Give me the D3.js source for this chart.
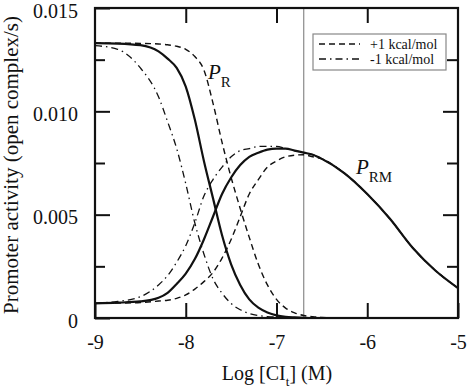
<!DOCTYPE html>
<html><head><meta charset="utf-8">
<script src="https://cdn.jsdelivr.net/npm/d3@7"></script>
<style>
html,body{margin:0;padding:0;background:#fff;}
svg{display:block;}
text{font-family:"Liberation Serif","Times New Roman",serif;fill:#111;}
</style></head>
<body>
<svg id="chart" width="469" height="391"></svg>
<script>
// log [CI_t] grid (M)
const logC = [-9, -8.75, -8.5, -8.3, -8.2, -8.1, -8.0, -7.9, -7.8, -7.7, -7.6, -7.5, -7.4, -7.3, -7.2, -7.1, -7.0, -6.9, -6.8, -6.7, -6.6, -6.5, -6.25, -6.0, -5.75, -5.5, -5.25, -5.0];

// P_R activity
const prSolid   = [0.0133, 0.01328, 0.0132, 0.0129, 0.01255, 0.0121, 0.0112, 0.0096, 0.0076, 0.0058, 0.0040, 0.0026, 0.0016, 0.0009, 0.0005, 0.00027, 0.00013, 0.00006, 0.00003, 0.00001, 0, 0, 0, 0, 0, 0, 0, 0];
const prPlus1   = [0.0133, 0.0133, 0.01329, 0.01326, 0.01322, 0.01315, 0.0130, 0.01265, 0.0120, 0.0104, 0.0085, 0.0068, 0.0053, 0.0039, 0.0026, 0.0016, 0.0009, 0.00048, 0.00025, 0.00012, 0.00006, 0.00003, 0, 0, 0, 0, 0, 0];
const prMinus1  = [0.01318, 0.0130, 0.0121, 0.0107, 0.0095, 0.0082, 0.0065, 0.0046, 0.0031, 0.0019, 0.0012, 0.0007, 0.0004, 0.00022, 0.00012, 0.00007, 0.00004, 0.00002, 0.00001, 0, 0, 0, 0, 0, 0, 0, 0, 0];

// P_RM activity
const prmSolid  = [0.00071, 0.00074, 0.0008, 0.00098, 0.00122, 0.00165, 0.00215, 0.00285, 0.0038, 0.0049, 0.0060, 0.0068, 0.0074, 0.0078, 0.0080, 0.00815, 0.0082, 0.0082, 0.0081, 0.0080, 0.0079, 0.0077, 0.0070, 0.0060, 0.0048, 0.0034, 0.0023, 0.00145];
const prmPlus1  = [0.00071, 0.00072, 0.00075, 0.00082, 0.00086, 0.00095, 0.00112, 0.0014, 0.00176, 0.0022, 0.0029, 0.0038, 0.0049, 0.0060, 0.0067, 0.0073, 0.0076, 0.0078, 0.00788, 0.0079, 0.0078, 0.0077, 0.0070, 0.0060, 0.0048, 0.0034, 0.0023, 0.00145];
const prmMinus1 = [0.00072, 0.0008, 0.00103, 0.0016, 0.00205, 0.0027, 0.0035, 0.0046, 0.0059, 0.0067, 0.0073, 0.0078, 0.0081, 0.0082, 0.0083, 0.0083, 0.0083, 0.0082, 0.0081, 0.0080, 0.0079, 0.0077, 0.0070, 0.0060, 0.0048, 0.0034, 0.0023, 0.00145];

const xTicks = [-9, -8, -7, -6, -5];
const yTicks = [0, 0.005, 0.010, 0.015];
const yMinorTicks = [0.0025, 0.0075, 0.0125];
const refLine = -6.7;
const legendLabels = ["+1 kcal/mol", "-1 kcal/mol"];

const svg = d3.select("#chart");
const L = 95, R = 458, T = 8, B = 318;
const x = d3.scaleLinear().domain([-9, -5]).range([L, R]);
const y = d3.scaleLinear().domain([0, 0.015]).range([B, T]);

const FS = 20;

// reference vertical line
svg.append("line").attr("x1", x(refLine)).attr("x2", x(refLine))
  .attr("y1", y(0.015)).attr("y2", y(0)).attr("stroke", "#8a8a8a").attr("stroke-width", 1.2);

// curves
const line = d3.line().x((d) => x(d[0])).y((d) => y(d[1])).curve(d3.curveMonotoneX);
const series = [
  {v: prMinus1, dash: "7,4,1.5,4", w: 1.3},
  {v: prPlus1, dash: "6,4", w: 1.4},
  {v: prmMinus1, dash: "7,4,1.5,4", w: 1.3},
  {v: prmPlus1, dash: "6,4", w: 1.4},
  {v: prSolid, dash: null, w: 2.2},
  {v: prmSolid, dash: null, w: 2.2}
];
series.forEach((s) => {
  svg.append("path").datum(logC.map((c, i) => [c, s.v[i]]))
    .attr("d", line).attr("fill", "none").attr("stroke", "#111")
    .attr("stroke-width", s.w).attr("stroke-dasharray", s.dash)
    .attr("stroke-linejoin", "round");
});

// axes (ticks inward)
const fmtX = (d) => String(d);
const fmtY = (d) => d === 0 ? "0" : d3.format(".3f")(d);
function styleAxis(g) {
  g.select(".domain").remove();
  g.selectAll(".tick line").attr("stroke", "#111").attr("stroke-width", 2);
  g.selectAll(".tick text").style("font-size", FS + "px").style("font-family", "Liberation Serif, serif").attr("fill", "#111");
}
svg.append("g").attr("transform", `translate(0,${B})`)
  .call(d3.axisBottom(x).tickValues(xTicks).tickFormat(fmtX).tickSize(-15).tickPadding(17))
  .call(styleAxis);
svg.append("g").attr("transform", `translate(0,${T})`)
  .call(d3.axisTop(x).tickValues(xTicks.slice(1, -1)).tickFormat("").tickSize(-15))
  .call(styleAxis);
svg.append("g").attr("transform", `translate(${L},0)`)
  .call(d3.axisLeft(y).tickValues(yTicks).tickFormat(fmtY).tickSize(-15).tickPadding(17))
  .call(styleAxis)
  .call((g) => g.selectAll(".tick text").attr("dy", "0.45em"));
svg.append("g").attr("transform", `translate(${L},0)`)
  .call(d3.axisLeft(y).tickValues(yMinorTicks).tickFormat("").tickSize(-10))
  .call(styleAxis);
svg.append("g").attr("transform", `translate(${R},0)`)
  .call(d3.axisRight(y).tickValues(yTicks.slice(1, -1)).tickFormat("").tickSize(-15))
  .call(styleAxis);
svg.append("g").attr("transform", `translate(${R},0)`)
  .call(d3.axisRight(y).tickValues(yMinorTicks).tickFormat("").tickSize(-11))
  .call(styleAxis);

// frame
svg.append("rect").attr("x", L).attr("y", T).attr("width", R - L).attr("height", B - T)
  .attr("fill", "none").attr("stroke", "#111").attr("stroke-width", 2.2);

// axis titles
const xt = svg.append("text").attr("x", 277).attr("y", 380).attr("text-anchor", "middle").style("font-size", FS + "px");
xt.append("tspan").text("Log [CI");
xt.append("tspan").attr("dy", 6).style("font-size", "13px").text("t");
xt.append("tspan").attr("dy", -6).text("] (M)");

svg.append("text").attr("transform", "translate(18,165) rotate(-90)")
  .attr("text-anchor", "middle").style("font-size", "21px")
  .text("Promoter activity (open complex/s)");

// curve labels
const pr = svg.append("text").attr("x", 208).attr("y", 79).style("font-size", "21px");
pr.append("tspan").style("font-style", "italic").text("P");
pr.append("tspan").attr("dy", 8).style("font-size", "15px").text("R");
const prm = svg.append("text").attr("x", 356).attr("y", 174).style("font-size", "21px");
prm.append("tspan").style("font-style", "italic").text("P");
prm.append("tspan").attr("dy", 8).style("font-size", "15px").text("RM");

// legend
const lg = svg.append("g");
lg.append("rect").attr("x", 313).attr("y", 34).attr("width", 133).attr("height", 36)
  .attr("fill", "#fff").attr("stroke", "#888").attr("stroke-width", 1.2);
[["6,4"], ["7,4,1.5,4"]].forEach((d, i) => {
  const yy = 44 + i * 15;
  lg.append("line").attr("x1", 319).attr("x2", 360).attr("y1", yy).attr("y2", yy)
    .attr("stroke", "#111").attr("stroke-width", 1.3).attr("stroke-dasharray", d[0]);
  lg.append("text").attr("x", 370).attr("y", yy + 5).style("font-size", "14px").text(legendLabels[i]);
});
</script>
</body></html>
